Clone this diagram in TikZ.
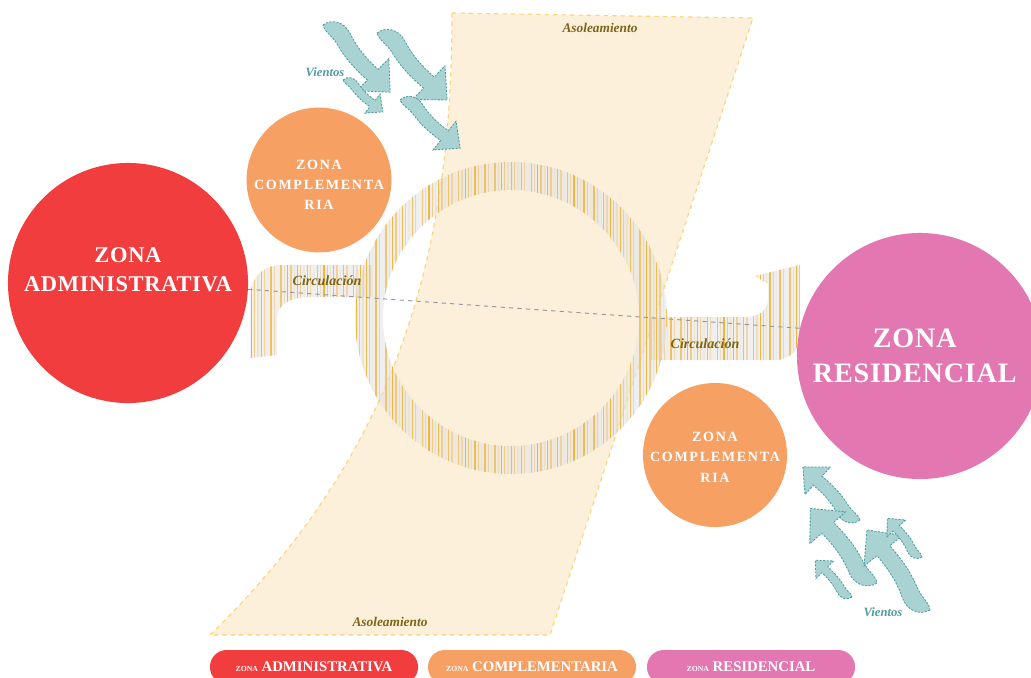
\documentclass[tikz,border=0pt]{standalone}
\usepackage{fontspec}
\setmainfont{Liberation Serif}
\usetikzlibrary{positioning, calc}
\definecolor{zadmin}{HTML}{F23D3F}
\definecolor{zcomp}{HTML}{F7A064}
\definecolor{zres}{HTML}{E377B1}
\definecolor{solfill}{HTML}{FCF0DA}
\definecolor{soledge}{HTML}{F8D47A}
\definecolor{ringgray}{HTML}{E4E4E4}
\definecolor{stripeor}{HTML}{F4B53C}
\definecolor{windfill}{HTML}{A9D3D2}
\definecolor{windedge}{HTML}{4F9C9E}
\definecolor{labgold}{HTML}{7D6418}

% vertical hatching: x0, x1, y0, y1
\newcommand{\hatch}[4]{%
  \fill[ringgray, opacity=0.6] (#1,#3) rectangle (#2,#4);
  \pgfmathtruncatemacro{\nh}{(#2-#1)/3.3}
  \foreach \k in {0,...,\nh}{%
    \pgfmathsetmacro{\xs}{#1+3.3*\k}
    \pgfmathsetmacro{\op}{mod(\k*7+3,11)/10}
    \draw[hatchline, draw opacity=\op] (\xs,#3) -- (\xs,#4);
  }}

\tikzset{
  wind/.pic={
    \draw[windshape] (0,0) .. controls (2,-12) and (14,-18) .. (26,-14)
      .. controls (40,-9) and (56,-7) .. (74,-8) -- (74,-24) -- (100,0)
      -- (74,24) -- (74,8) .. controls (56,9) and (40,8) .. (26,4)
      .. controls (16,1) and (6,4) .. (0,0) -- cycle;
  }
}

\begin{document}
\begin{tikzpicture}[x=0.025cm, y=-0.025cm,
    every node/.style={inner sep=0pt},
    zonecirc/.style={circle, inner sep=0pt},
    zonetext/.style={text=white, align=center, inner sep=0pt},
    pill/.style={rounded corners=0.42cm, minimum width=5.2cm, minimum height=0.85cm,
                 text=white, font=\bfseries\fontsize{10.5}{12}\selectfont},
    sunband/.style={fill=solfill, draw=soledge, dashed, line width=0.8pt},
    hatchline/.style={draw=stripeor, line width=0.9pt},
    windshape/.style={fill=windfill, draw=windedge, line width=0.6pt,
                      dash pattern=on 1.5pt off 1pt},
    axisline/.style={draw=gray!80, dashed, line width=0.7pt},
    sunlab/.style={text=labgold, font=\bfseries\itshape\fontsize{9.5}{10}\selectfont},
    circlab/.style={text=labgold, font=\bfseries\itshape\fontsize{10}{11}\selectfont},
    windlab/.style={text=windedge, font=\bfseries\itshape\fontsize{9}{10}\selectfont},
]
\useasboundingbox (0,0) rectangle (1031,677);

% asoleamiento
\draw[sunband] (452,13) -- (753,18) -- (550,635) -- (210,635)
  .. controls (400,450) and (452,250) .. (452,13) -- cycle;
\node[sunlab] (solN) at (600,28) {Asoleamiento};
\node[sunlab] (solS) at (390,622) {Asoleamiento};

% vientos
\pic[rotate=-45, scale=0.95] at (323,25) {wind};
\pic[rotate=-43.7, scale=0.97] at (377,33) {wind};
\pic[rotate=-38.7, scale=0.51] at (343,80) {wind};
\pic[rotate=-38.7, scale=0.77] at (400,100) {wind};
\pic[rotate=137.1, scale=0.78] at (860,520) {wind};
\pic[rotate=131.8, scale=1.0] at (877,583) {wind};
\pic[rotate=135, scale=0.52] at (852,597) {wind};
\pic[rotate=128.2, scale=1.02] at (930,610) {wind};
\pic[rotate=131.9, scale=0.52] at (922,557) {wind};
\node[windlab] (ventN) at (325,72) {Vientos};
\node[windlab] (ventS) at (883,612) {Vientos};

% circulacion
\begin{scope}
  \clip (372,265) -- (282,265) .. controls (262,265) and (250,278) .. (250,300)
    -- (250,358) -- (277,355) -- (277,318) .. controls (277,305) and (290,297) .. (310,297)
    -- (372,297) -- cycle;
  \hatch{248}{374}{260}{362}
\end{scope}
\begin{scope}
  \clip (650,317) -- (745,317) .. controls (760,317) and (768,310) .. (768,298)
    -- (768,284) -- (755,276) -- (800,265) -- (800,335)
    .. controls (800,350) and (790,360) .. (775,360) -- (650,360) -- cycle;
  \hatch{648}{802}{262}{362}
\end{scope}
\begin{scope}[even odd rule]
  \clip (511,318) circle[radius=156] (511,318) circle[radius=128];
  \hatch{353}{670}{160}{476}
\end{scope}
\node[circlab] (circW) at (327,281) {Circulación};
\node[circlab] (circE) at (705,344) {Circulación};

% zonas
\node[zonecirc, fill=zadmin, minimum size=6cm] (adm) at (128,283) {};
\node[zonecirc, fill=zcomp, minimum size=3.62cm] (compN) at (319,180) {};
\node[zonecirc, fill=zcomp, minimum size=3.6cm] (compS) at (715,455) {};
\node[zonecirc, fill=zres, minimum size=6.15cm] (res) at (920,356) {};
\draw[axisline] (adm.-3) -- (res.167);

\node[zonetext, font=\bfseries\addfontfeatures{LetterSpace=3}\fontsize{16}{21}\selectfont]
    (admT) at ([yshift=0.33cm]adm.center) {ZONA\\ADMINISTRATIVA};
\node[zonetext, font=\bfseries\addfontfeatures{LetterSpace=12}\fontsize{10}{14.5}\selectfont]
    (compNT) at ([yshift=-0.12cm]compN.center) {ZONA\\COMPLEMENTA\\RIA};
\node[zonetext, font=\bfseries\addfontfeatures{LetterSpace=12}\fontsize{10}{14.5}\selectfont]
    (compST) at ([yshift=-0.05cm]compS.center) {ZONA\\COMPLEMENTA\\RIA};
\node[zonetext, font=\bfseries\addfontfeatures{LetterSpace=3}\fontsize{20}{25}\selectfont]
    (resT) at ([xshift=-0.13cm]res.center) {ZONA\\RESIDENCIAL};

% leyenda
\node[pill, fill=zadmin] (legAdm) at (314,667)
    {{\fontsize{5.5}{6}\selectfont ZONA} ADMINISTRATIVA};
\node[pill, fill=zcomp] (legComp) at (532,667)
    {{\fontsize{5.5}{6}\selectfont ZONA} COMPLEMENTARIA};
\node[pill, fill=zres] (legRes) at (751,667)
    {{\fontsize{5.5}{6}\selectfont ZONA} RESIDENCIAL};
\end{tikzpicture}
\end{document}
